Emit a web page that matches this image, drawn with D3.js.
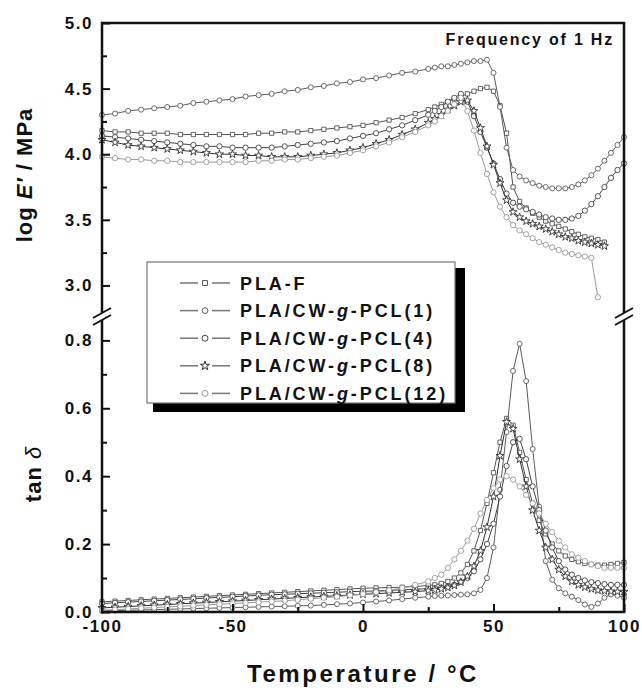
<!DOCTYPE html>
<html>
<head>
<meta charset="utf-8">
<script src="https://cdn.jsdelivr.net/npm/d3@7"></script>
<style>
  body { margin: 0; background: #fff; }
  svg text { font-family: "Liberation Sans", Arial, sans-serif; font-weight: bold; fill: #111; }
</style>
</head>
<body>
<svg id="chart" width="642" height="692"></svg>
<script>
// temperature grid (°C) shared by all curves
const temps = [-100, -95, -90, -85, -80, -75, -70, -65, -60, -55, -50, -45, -40, -35, -30, -25, -20, -15, -10, -5, 0, 5, 10, 15, 20, 25,
  27.5, 30, 32.5, 35, 37.5, 40, 42.5, 45, 47.5, 50, 52.5, 55, 57.5, 60, 62.5, 65, 67.5, 70, 72.5, 75, 77.5, 80, 82.5, 85, 87.5, 90, 92.5, 95, 97.5, 100];

const seriesNames = ['PLA-F', 'PLA/CW-g-PCL(1)', 'PLA/CW-g-PCL(4)', 'PLA/CW-g-PCL(8)', 'PLA/CW-g-PCL(12)'];

// log E' (MPa)
const logE_PLAF = [4.18, 4.17, 4.17, 4.16, 4.16, 4.16, 4.15, 4.15, 4.15, 4.15, 4.15, 4.15, 4.16, 4.16, 4.17, 4.17, 4.18, 4.19, 4.20, 4.21, 4.22, 4.24, 4.26, 4.28, 4.31, 4.34,
  4.36, 4.38, 4.40, 4.42, 4.44, 4.46, 4.48, 4.50, 4.51, 4.48, 4.37, 4.16, 3.75, 3.64, 3.59, 3.55, 3.52, 3.49, 3.47, 3.45, 3.43, 3.41, 3.39, 3.37, 3.36, 3.35, 3.33, null, null, null];
const logE_PCL1 = [4.30, 4.31, 4.33, 4.34, 4.35, 4.36, 4.37, 4.39, 4.40, 4.41, 4.42, 4.44, 4.45, 4.46, 4.48, 4.49, 4.51, 4.52, 4.54, 4.55, 4.57, 4.58, 4.60, 4.62, 4.63, 4.65,
  4.66, 4.67, 4.67, 4.68, 4.69, 4.70, 4.71, 4.71, 4.72, 4.62, 4.36, 4.05, 3.88, 3.83, 3.80, 3.78, 3.76, 3.75, 3.74, 3.74, 3.74, 3.75, 3.77, 3.80, 3.84, 3.89, 3.95, 4.01, 4.07, 4.13];
const logE_PCL4 = [4.14, 4.13, 4.12, 4.11, 4.10, 4.09, 4.08, 4.07, 4.06, 4.06, 4.05, 4.05, 4.05, 4.05, 4.06, 4.07, 4.08, 4.09, 4.10, 4.12, 4.14, 4.16, 4.19, 4.22, 4.26, 4.30,
  4.33, 4.36, 4.40, 4.43, 4.46, 4.40, 4.29, 4.17, 4.05, 3.93, 3.81, 3.70, 3.63, 3.60, 3.58, 3.56, 3.54, 3.52, 3.51, 3.50, 3.50, 3.51, 3.53, 3.57, 3.62, 3.68, 3.75, 3.82, 3.88, 3.93];
const logE_PCL8 = [4.11, 4.09, 4.07, 4.06, 4.05, 4.04, 4.03, 4.02, 4.01, 4.00, 4.00, 3.99, 3.99, 3.98, 3.98, 3.98, 3.99, 4.00, 4.01, 4.03, 4.05, 4.08, 4.11, 4.15, 4.19, 4.24,
  4.27, 4.30, 4.34, 4.37, 4.40, 4.41, 4.33, 4.20, 4.06, 3.92, 3.78, 3.65, 3.56, 3.52, 3.49, 3.47, 3.45, 3.43, 3.41, 3.39, 3.37, 3.36, 3.34, 3.33, 3.32, 3.31, 3.30, null, null, null];
const logE_PCL12 = [3.98, 3.97, 3.96, 3.96, 3.95, 3.95, 3.94, 3.94, 3.94, 3.94, 3.94, 3.94, 3.95, 3.95, 3.96, 3.96, 3.97, 3.98, 3.99, 4.01, 4.03, 4.06, 4.09, 4.13, 4.17, 4.22,
  4.25, 4.29, 4.33, 4.38, 4.43, 4.33, 4.18, 4.01, 3.85, 3.71, 3.60, 3.52, 3.46, 3.42, 3.39, 3.36, 3.33, 3.31, 3.29, 3.27, 3.25, 3.24, 3.23, 3.22, 3.21, 2.91, null, null, null, null];

// tan delta
const tan_PLAF = [0.030, 0.032, 0.034, 0.036, 0.038, 0.040, 0.042, 0.044, 0.046, 0.048, 0.050, 0.052, 0.054, 0.056, 0.058, 0.060, 0.062, 0.064, 0.066, 0.068, 0.070, 0.071, 0.072, 0.073, 0.075, 0.078,
  0.080, 0.084, 0.090, 0.100, 0.115, 0.140, 0.180, 0.240, 0.320, 0.410, 0.500, 0.570, 0.550, 0.470, 0.390, 0.320, 0.270, 0.230, 0.200, 0.180, 0.165, 0.155, 0.148, 0.143, 0.140, 0.138, 0.138, 0.140, 0.143, 0.146];
const tan_PCL1 = [0.003, 0.004, 0.005, 0.006, 0.007, 0.008, 0.009, 0.010, 0.011, 0.012, 0.013, 0.014, 0.015, 0.016, 0.017, 0.018, 0.019, 0.021, 0.023, 0.025, 0.028, 0.031, 0.034, 0.038, 0.042, 0.045,
  0.047, 0.048, 0.049, 0.050, 0.051, 0.052, 0.055, 0.065, 0.100, 0.190, 0.360, 0.530, 0.710, 0.790, 0.680, 0.480, 0.310, 0.150, 0.095, 0.070, 0.055, 0.045, 0.035, 0.022, 0.015, 0.025, 0.042, 0.052, 0.048, 0.042];
const tan_PCL4 = [0.025, 0.027, 0.029, 0.031, 0.033, 0.035, 0.037, 0.039, 0.041, 0.043, 0.045, 0.047, 0.049, 0.051, 0.052, 0.054, 0.055, 0.057, 0.058, 0.060, 0.061, 0.062, 0.064, 0.065, 0.067, 0.069,
  0.070, 0.072, 0.075, 0.080, 0.088, 0.100, 0.120, 0.155, 0.200, 0.260, 0.340, 0.430, 0.500, 0.510, 0.450, 0.370, 0.300, 0.240, 0.190, 0.150, 0.125, 0.110, 0.100, 0.093, 0.088, 0.085, 0.082, 0.080, 0.080, 0.080];
const tan_PCL8 = [0.012, 0.014, 0.016, 0.018, 0.020, 0.022, 0.024, 0.026, 0.028, 0.030, 0.032, 0.034, 0.036, 0.038, 0.040, 0.042, 0.044, 0.046, 0.048, 0.050, 0.052, 0.054, 0.056, 0.058, 0.060, 0.063,
  0.065, 0.068, 0.072, 0.078, 0.088, 0.105, 0.135, 0.180, 0.250, 0.340, 0.460, 0.560, 0.540, 0.450, 0.370, 0.300, 0.240, 0.190, 0.155, 0.125, 0.105, 0.090, 0.080, 0.073, 0.068, 0.064, 0.062, 0.061, 0.060, 0.060];
const tan_PCL12 = [0.005, 0.007, 0.009, 0.011, 0.013, 0.015, 0.017, 0.019, 0.021, 0.023, 0.025, 0.027, 0.029, 0.031, 0.033, 0.036, 0.039, 0.042, 0.045, 0.049, 0.053, 0.058, 0.064, 0.071, 0.080, 0.090,
  0.100, 0.110, 0.130, 0.155, 0.180, 0.210, 0.245, 0.290, 0.330, 0.365, 0.390, 0.400, 0.390, 0.370, 0.345, 0.320, 0.290, 0.260, 0.235, 0.210, 0.190, 0.170, 0.160, 0.150, 0.140, 0.135, 0.130, 0.130, 0.130, 0.130];

// tick labels
const xTicks = [-100, -50, 0, 50, 100];
const xMinor = [-75, -25, 25, 75];
const eTicks = [3.0, 3.5, 4.0, 4.5, 5.0];
const eMinor = [3.25, 3.75, 4.25, 4.75];
const tanTicks = [0.0, 0.2, 0.4, 0.6, 0.8];
const tanMinor = [0.1, 0.3, 0.5, 0.7];

function renderDMAChart() {
  const svg = d3.select('#chart');
  const left = 102, right = 624, top = 23, bottom = 612;
  const topEnd = 313, botStart = 320;

  const x = d3.scaleLinear().domain([-100, 100]).range([left, right]);
  const yE = d3.scaleLinear().domain([2.79, 5.0]).range([topEnd, top]);
  const yT = d3.scaleLinear().domain([0, 0.86]).range([bottom, botStart]);

  const eSeries = [logE_PLAF, logE_PCL1, logE_PCL4, logE_PCL8, logE_PCL12];
  const tSeries = [tan_PLAF, tan_PCL1, tan_PCL4, tan_PCL8, tan_PCL12];
  const colors = ['#555', '#5c5c5c', '#444', '#333', '#9a9a9a'];
  const symbols = [d3.symbolSquare, d3.symbolCircle, d3.symbolCircle, d3.symbolStar, d3.symbolCircle];
  const sizes = [18, 20, 22, 20, 22];

  // Curves
  function drawCurves(series, yScale) {
    series.forEach((vals, i) => {
      const pts = temps.map((t, j) => ({t: t, v: vals[j]})).filter(d => d.v != null);
      svg.append('path')
        .datum(pts)
        .attr('fill', 'none')
        .attr('stroke', colors[i])
        .attr('stroke-width', 1)
        .attr('d', d3.line().x(d => x(d.t)).y(d => yScale(d.v)));
      svg.append('g').selectAll('path')
        .data(pts)
        .enter()
        .append('path')
        .attr('transform', d => `translate(${x(d.t)},${yScale(d.v)})`)
        .attr('d', d3.symbol().type(symbols[i]).size(sizes[i]))
        .attr('fill', '#fff')
        .attr('stroke', colors[i])
        .attr('stroke-width', 0.9);
    });
  }
  drawCurves(tSeries, yT);
  drawCurves(eSeries, yE);

  // Axes (ticks inside)
  function styleAxis(g) {
    g.select('.domain').remove();
    g.selectAll('line').attr('stroke', '#111').attr('stroke-width', 2);
    g.selectAll('text').attr('font-size', '17px').attr('letter-spacing', '1.5px').attr('fill', '#111')
      .attr('font-family', '"Liberation Sans", Arial, sans-serif').attr('font-weight', 'bold');
  }
  svg.append('g').attr('transform', `translate(${left},0)`)
    .call(d3.axisLeft(yE).tickValues(eTicks).tickSize(-8).tickPadding(9).tickFormat(d3.format('.1f')))
    .call(styleAxis);
  svg.append('g').attr('transform', `translate(${left},0)`)
    .call(d3.axisLeft(yE).tickValues(eMinor).tickSize(-5).tickFormat(''))
    .call(styleAxis);
  svg.append('g').attr('transform', `translate(${left},0)`)
    .call(d3.axisLeft(yT).tickValues(tanTicks).tickSize(-8).tickPadding(9).tickFormat(d3.format('.1f')))
    .call(styleAxis);
  svg.append('g').attr('transform', `translate(${left},0)`)
    .call(d3.axisLeft(yT).tickValues(tanMinor).tickSize(-5).tickFormat(''))
    .call(styleAxis);
  svg.append('g').attr('transform', `translate(0,${bottom})`)
    .call(d3.axisBottom(x).tickValues(xTicks).tickSize(-8).tickPadding(8).tickFormat(d => String(d)))
    .call(styleAxis);
  svg.append('g').attr('transform', `translate(0,${bottom})`)
    .call(d3.axisBottom(x).tickValues(xMinor).tickSize(-5).tickFormat(''))
    .call(styleAxis);

  // Frame with axis breaks
  const frame = svg.append('g').attr('stroke', '#111').attr('stroke-width', 2.5).attr('fill', 'none');
  frame.append('path').attr('d', `M${left},${topEnd}V${top}H${right}V${topEnd}`);
  frame.append('path').attr('d', `M${left},${botStart}V${bottom}H${right}V${botStart}`);
  [left, right].forEach(bx => {
    [topEnd, botStart].forEach(by => {
      frame.append('line')
        .attr('x1', bx - 9).attr('y1', by + 5)
        .attr('x2', bx + 9).attr('y2', by - 5)
        .attr('stroke-width', 2);
    });
  });

  // Annotation
  svg.append('text')
    .attr('x', 614).attr('y', 45)
    .attr('text-anchor', 'end')
    .attr('font-size', '16px')
    .attr('letter-spacing', '1.8px')
    .text('Frequency of 1 Hz');

  // Axis titles
  const yTitle1 = svg.append('text')
    .attr('transform', 'translate(32,175) rotate(-90)')
    .attr('text-anchor', 'middle')
    .attr('font-size', '22px')
    .attr('letter-spacing', '1px');
  yTitle1.append('tspan').text('log ');
  yTitle1.append('tspan').attr('font-style', 'italic').text('E′');
  yTitle1.append('tspan').text(' / MPa');

  const yTitle2 = svg.append('text')
    .attr('transform', 'translate(41,474) rotate(-90)')
    .attr('text-anchor', 'middle')
    .attr('font-size', '22px')
    .attr('letter-spacing', '1px');
  yTitle2.append('tspan').text('tan ');
  yTitle2.append('tspan').attr('font-style', 'italic').attr('font-weight', 'normal').text('δ');

  svg.append('text')
    .attr('x', 363).attr('y', 682)
    .attr('text-anchor', 'middle')
    .attr('font-size', '24px')
    .attr('letter-spacing', '2.6px')
    .text('Temperature / °C');

  // Legend
  const lg = svg.append('g');
  lg.append('rect').attr('x', 153).attr('y', 268).attr('width', 312).attr('height', 144).attr('fill', '#000');
  lg.append('rect').attr('x', 147).attr('y', 262).attr('width', 308).attr('height', 141)
    .attr('fill', '#fff').attr('stroke', '#777').attr('stroke-width', 1.2);
  seriesNames.forEach((name, i) => {
    const cy = 283 + i * 27.6;
    lg.append('line').attr('x1', 180).attr('x2', 198).attr('y1', cy).attr('y2', cy).attr('stroke', '#777').attr('stroke-width', 1.5);
    lg.append('line').attr('x1', 212).attr('x2', 230).attr('y1', cy).attr('y2', cy).attr('stroke', '#777').attr('stroke-width', 1.5);
    lg.append('path')
      .attr('transform', `translate(205,${cy})`)
      .attr('d', d3.symbol().type(symbols[i]).size(sizes[i] + 6))
      .attr('fill', '#fff').attr('stroke', colors[i]).attr('stroke-width', 1);
    const t = lg.append('text')
      .attr('x', 240).attr('y', cy + 6.5)
      .attr('font-size', '18px')
      .attr('letter-spacing', '2.9px');
    const parts = name.split('-g-');
    if (parts.length === 2) {
      t.append('tspan').text(parts[0] + '-');
      t.append('tspan').attr('font-style', 'italic').text('g');
      t.append('tspan').text('-' + parts[1]);
    } else {
      t.text(name);
    }
  });
}

renderDMAChart();
</script>
</body>
</html>
